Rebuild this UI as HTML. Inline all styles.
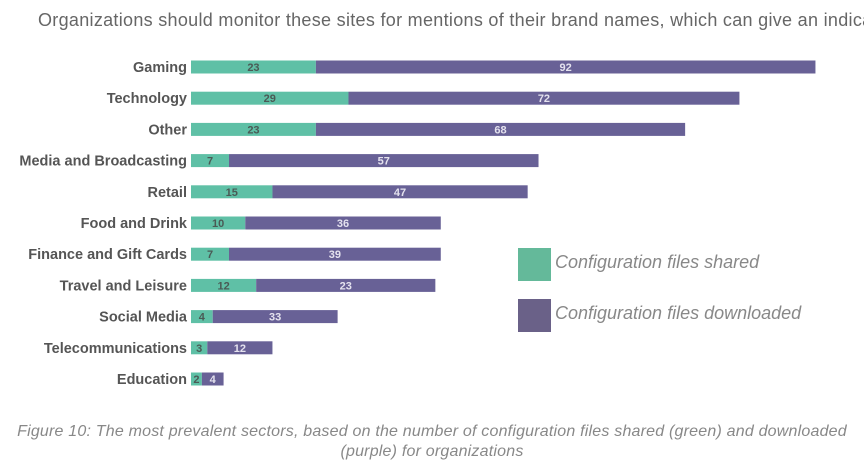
<!DOCTYPE html>
<html><head><meta charset="utf-8"><style>
body{margin:0;background:#fff;width:864px;height:470px;overflow:hidden;font-family:"Liberation Sans",sans-serif;position:relative}
.top{position:absolute;left:38px;top:10px;font-size:18px;color:#666;white-space:nowrap;letter-spacing:0.3px}
.cap{position:absolute;left:0;width:864px;top:422px;text-align:center;font-style:italic;font-size:16px;line-height:20px;color:#888;letter-spacing:0.2px}
.leg{position:absolute;left:518px;width:33px;height:33px}
.lt{position:absolute;left:555px;font-style:italic;font-size:18px;color:#888}
</style></head><body>
<div class="top">Organizations should monitor these sites for mentions of their brand names, which can give an indica</div>
<svg id="chart" width="864" height="420" style="position:absolute;left:0;top:0"></svg>
<div class="leg" style="top:248px;background:#64b99a"></div>
<div class="lt" style="top:252px">Configuration files shared</div>
<div class="leg" style="top:299px;background:#6a6188"></div>
<div class="lt" style="top:303px">Configuration files downloaded</div>
<div class="cap">Figure 10: The most prevalent sectors, based on the number of configuration files shared (green) and downloaded<br>(purple) for organizations</div>
<script>
const categories=["Gaming","Technology","Other","Media and Broadcasting","Retail","Food and Drink","Finance and Gift Cards","Travel and Leisure","Social Media","Telecommunications","Education"];
const shared=[23,29,23,7,15,10,7,12,4,3,2];
const downloaded=[92,72,68,57,47,36,39,33,23,12,4];
const sharedLabels=["23","29","23","7","15","10","7","12","4","3","2"];
const downloadedLabels=["92","72","68","57","47","36","39","23","33","12","4"];
const svg=document.getElementById('chart');
const NS='http://www.w3.org/2000/svg';
const x0=191,scale=5.43,y0=67,step=31.2,bh=13;
const xs=v=>v*scale;
const ys=i=>y0+i*step;
function mk(tag,attrs){const e=document.createElementNS(NS,tag);for(const k in attrs)e.setAttribute(k,attrs[k]);svg.appendChild(e);return e;}
categories.forEach((c,i)=>{
 const y=ys(i);
 const lab=mk('text',{x:187,y:y+5,'text-anchor':'end','font-size':14.5,'font-weight':'bold',fill:'#555'});
 lab.textContent=c;
 
 
 const w1=xs(shared[i]),w2=xs(downloaded[i]);
 const r1=mk('rect',{x:x0,y:y-bh/2,width:w1,height:bh,fill:'#5fc0a6'});
 
 
 const r2=mk('rect',{x:x0+w1,y:y-bh/2,width:w2,height:bh,fill:'#686196'});
 
 
 const t1=mk('text',{x:x0+w1/2,y:y+4,'text-anchor':'middle','font-size':11,'font-weight':'bold',fill:'#4a5a55'});
 t1.textContent=sharedLabels[i];
 
 
 const t2=mk('text',{x:x0+w1+w2/2,y:y+4,'text-anchor':'middle','font-size':11,'font-weight':'bold',fill:'#e4e2ee'});
 t2.textContent=downloadedLabels[i];
 
 
});
</script>
</body></html>
